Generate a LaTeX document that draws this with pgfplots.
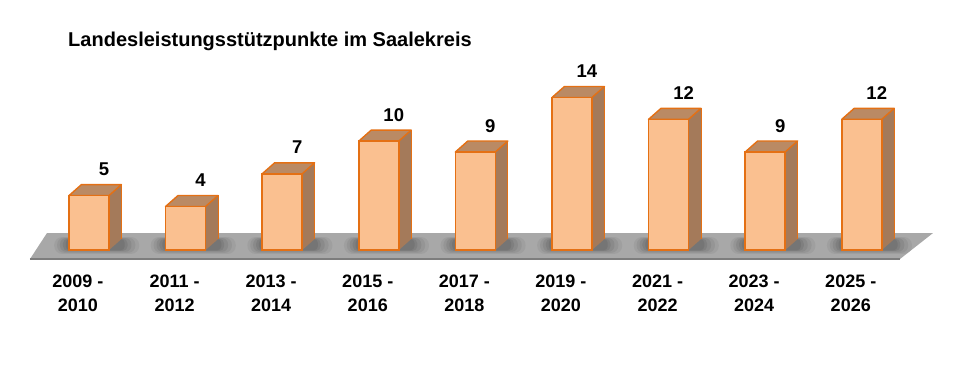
\documentclass[border=0pt]{standalone}
\usepackage{pgfplots}
\pgfplotsset{compat=1.18}
\usepackage{pgfplotstable}
\usepackage{fontspec}
\setmainfont{Liberation Sans}
\definecolor{frontc}{RGB}{250,192,144}
\definecolor{borderc}{RGB}{228,112,20}
\definecolor{topc}{RGB}{186,138,100}
\definecolor{sidec}{RGB}{164,122,90}
\definecolor{floorc}{RGB}{168,168,168}
\definecolor{flooredge}{RGB}{125,125,125}
\pgfplotstableread{
x v
0 5
1 4
2 7
3 10
4 9
5 14
6 12
7 9
8 12
}\data
\begin{document}
\begin{tikzpicture}
\begin{axis}[
  scale only axis, width=957pt, height=369pt,
  xmin=-0.921, xmax=8.986, ymin=-10.92, ymax=22.94,
  clip=false,
  axis line style={draw=none},
  major tick length=0pt,
  ytick=\empty,
  xtick={0,...,8},
  /pgf/number format/assume math mode=true,
  xticklabels={{2009 -\\2010},{2011 -\\2012},{2013 -\\2014},{2015 -\\2016},{2017 -\\2018},{2019 -\\2020},{2021 -\\2022},{2023 -\\2024},{2025 -\\2026}},
  xticklabel style={align=center, anchor=north, inner sep=0pt, yshift=94pt, xshift=-11pt,
    font=\fontsize{18}{24}\selectfont\bfseries},
]
% floor
\fill[floorc] (axis cs:-0.611,-0.826) -- (axis cs:8.395,-0.826) -- (axis cs:8.737,1.560) -- (axis cs:-0.435,1.560) -- cycle;
\draw[flooredge, line width=1.6pt] (axis cs:-0.611,-0.826) -- (axis cs:8.395,-0.826);
% shadows, side and top faces
\pgfplotsinvokeforeach{0,...,8}{
  \pgfplotstablegetelem{#1}{v}\of\data
  \edef\temp{%
    \noexpand\fill[black, opacity=0.05, rounded corners=8pt] (axis cs:#1-0.36,-0.35) rectangle (axis cs:#1+0.52,1.2);
    \noexpand\fill[black, opacity=0.06, rounded corners=7pt] (axis cs:#1-0.33,-0.25) rectangle (axis cs:#1+0.48,1.15);
    \noexpand\fill[black, opacity=0.07, rounded corners=6pt] (axis cs:#1-0.30,-0.15) rectangle (axis cs:#1+0.44,1.1);
    \noexpand\fill[black, opacity=0.08, rounded corners=5pt] (axis cs:#1-0.27,-0.08) rectangle (axis cs:#1+0.40,1.05);
    \noexpand\fill[black, opacity=0.08, rounded corners=4pt] (axis cs:#1-0.24,-0.02) rectangle (axis cs:#1+0.37,1.02);
    \noexpand\fill[sidec] (axis cs:#1+0.207,0) -- (axis cs:#1+0.207,\pgfplotsretval) -- (axis cs:#1+0.336,\pgfplotsretval+1.01) -- (axis cs:#1+0.336,1.01) -- cycle;
    \noexpand\draw[borderc, line width=0.8pt] (axis cs:#1+0.336,\pgfplotsretval+1.01) -- (axis cs:#1+0.336,1.01);
    \noexpand\filldraw[fill=topc, draw=borderc, line width=1.4pt, line join=round] (axis cs:#1-0.207,\pgfplotsretval) -- (axis cs:#1+0.207,\pgfplotsretval) -- (axis cs:#1+0.336,\pgfplotsretval+1.01) -- (axis cs:#1-0.078,\pgfplotsretval+1.01) -- cycle;
  }%
  \temp
}
% front faces
\addplot[ybar, bar width=0.414, fill=frontc, draw=borderc, line width=1.5pt,
  nodes near coords,
  nodes near coords style={anchor=base, yshift=20pt, xshift=15pt, font=\fontsize{18.5}{20}\selectfont\bfseries, text=black}]
  table[x=x, y=v] {\data};
% title
\node[anchor=base west, inner sep=0pt, font=\fontsize{20}{24}\selectfont\bfseries] at (rel axis cs:0.0711,0.8753) {Landesleistungsstützpunkte im Saalekreis};
\end{axis}
\end{tikzpicture}
\end{document}
